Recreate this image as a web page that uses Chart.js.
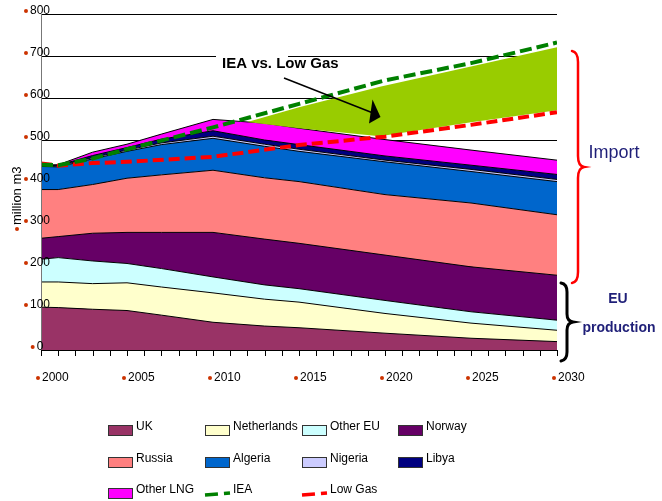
<!DOCTYPE html>
<html><head><meta charset="utf-8">
<script src="https://cdn.jsdelivr.net/npm/chart.js@4.4.1/dist/chart.umd.min.js"></script>
<style>html,body{margin:0;padding:0;background:#fff;}canvas{display:block;}</style>
</head><body>
<canvas id="c" width="662" height="501"></canvas>
<script>
// ---- data (million m3) ----
const years       = [2000, 2001, 2003, 2005, 2007, 2010, 2013, 2015, 2020, 2025, 2030];
const ukData      = [102, 101,  97,  94,  83,  66,  57,  53,  40,  28,  20];
const nlData      = [ 60,  61,  61,  66,  67,  70,  64,  61,  47,  36,  27];
const otherEuData = [ 54,  58,  54,  46,  44,  38,  34,  32,  31,  27,  24];
const norwayData  = [ 50,  50,  66,  74,  86, 106, 109, 108, 108, 107, 107];
const russiaData  = [116, 112, 116, 129, 137, 148, 146, 147, 144, 152, 144];
const algeriaData = [ 55,  54,  61,  64,  72,  76,  75,  72,  78,  75,  79];
const nigeriaData = [  1,   2,   3,   3,   4,   5,   5,   5,   4,   5,   5];
const libyaData   = [  2,   2,   5,   6,   9,  13,  10,  11,  10,  10,  12];
const lngData     = [  0,   1,   8,   8,  12,  27,  40,  39,  39,  36,  34];

const demandYears = [2000, 2001, 2003, 2005, 2010, 2015, 2020, 2025, 2030];
const ieaData     = [ 441,  440,  456,  478,  530,  586,  642,  683,  732];
const lowGasData  = [ 444,  439,  445,  448,  460,  488,  508,  536,  566];

const gapYears    = [2012, 2015, 2019.7, 2025, 2030];
const gapLowData  = [ 543,  528,  509,   542,  571];
const gapHighData = [ 543,  578,  627,   675,  721];

const yTickValues = [0, 100, 200, 300, 400, 500, 600, 700, 800];
const xTickLabels = [2000, 2005, 2010, 2015, 2020, 2025, 2030];

const supplyNames  = ['UK', 'Netherlands', 'Other EU', 'Norway', 'Russia', 'Algeria', 'Nigeria', 'Libya', 'Other LNG'];
const supplySeries = [ukData, nlData, otherEuData, norwayData, russiaData, algeriaData, nigeriaData, libyaData, lngData];
const supplyColors = ['#993366', '#ffffcc', '#ccffff', '#660066', '#ff8080', '#0066cc', '#ccccff', '#000080', '#ff00ff'];

const FONT = '"Liberation Sans", Arial, sans-serif';
const BULLET = '#cc3300';
const NAVY = '#1f1f78';

const pts = (xs, ys) => xs.map((x, i) => ({x: x, y: ys[i]}));

const datasets = supplySeries.map((s, i) => ({
  label: supplyNames[i], data: pts(years, s),
  backgroundColor: supplyColors[i], borderColor: '#000', borderWidth: 1,
  fill: i === 0 ? 'origin' : '-1', pointRadius: 0, tension: 0, stack: 'supply', order: 2
}));
datasets.push({label: 'gapBase', data: pts(gapYears, gapLowData), borderWidth: 0, borderColor: 'rgba(0,0,0,0)',
  fill: false, pointRadius: 0, tension: 0, stack: 'g1', order: 1});
datasets.push({label: 'IEA vs. Low Gas', data: pts(gapYears, gapHighData), borderWidth: 0, borderColor: 'rgba(0,0,0,0)',
  backgroundColor: '#99cc00', fill: '-1', pointRadius: 0, tension: 0, stack: 'g2', order: 1});
datasets.push({label: 'IEA', data: pts(demandYears, ieaData), borderColor: '#008000', borderWidth: 4,
  borderDash: [12, 5], fill: false, pointRadius: 0, tension: 0, stack: 'iea', order: 0});
datasets.push({label: 'Low Gas', data: pts(demandYears, lowGasData), borderColor: '#ff0000', borderWidth: 4,
  borderDash: [11, 5], fill: false, pointRadius: 0, tension: 0, stack: 'low', order: 0});

function bullet(ctx, x, y) {
  ctx.fillStyle = BULLET; ctx.beginPath(); ctx.arc(x, y, 2, 0, Math.PI * 2); ctx.fill();
}

const decor = {
  id: 'decor',
  beforeDraw(chart) {
    const ctx = chart.ctx; ctx.save(); ctx.fillStyle = '#fff'; ctx.fillRect(0, 0, chart.width, chart.height); ctx.restore();
  },
  afterDraw(chart) {
    const ctx = chart.ctx, xs = chart.scales.x, ys = chart.scales.y, a = chart.chartArea;
    ctx.save();
    // axes
    ctx.lineWidth = 1;
    ctx.strokeStyle = '#777';
    ctx.beginPath(); ctx.moveTo(a.left + 0.5, a.top); ctx.lineTo(a.left + 0.5, a.bottom); ctx.stroke();
    ctx.strokeStyle = '#000';
    ctx.beginPath(); ctx.moveTo(a.left, Math.round(a.bottom) + 0.5); ctx.lineTo(a.right, Math.round(a.bottom) + 0.5); ctx.stroke();
    ctx.beginPath();
    for (let yr = 2000; yr <= 2030; yr++) {
      const px = Math.round(xs.getPixelForValue(yr)) + 0.5;
      ctx.moveTo(px, a.bottom); ctx.lineTo(px, a.bottom + 6);
    }
    ctx.stroke();
    // x labels
    ctx.font = '12px ' + FONT; ctx.textBaseline = 'middle'; ctx.textAlign = 'left';
    xTickLabels.forEach(yr => {
      const px = xs.getPixelForValue(yr);
      ctx.fillStyle = '#000'; ctx.fillText(String(yr), px + 1, 378);
      bullet(ctx, px - 3, 378);
    });
    // y labels
    yTickValues.forEach(v => {
      const py = ys.getPixelForValue(v) - 3;
      const t = String(v), w = ctx.measureText(t).width, left = a.left - 1 - w / 2;
      ctx.fillStyle = '#000'; ctx.fillText(t, left, py);
      bullet(ctx, left - 4, py);
    });
    // y title
    ctx.save();
    ctx.translate(17, 225); ctx.rotate(-Math.PI / 2);
    ctx.font = '13px ' + FONT; ctx.fillStyle = '#000'; ctx.textAlign = 'left'; ctx.textBaseline = 'middle';
    ctx.fillText('million m3', 0, 0);
    bullet(ctx, -4, 0);
    ctx.restore();
    // annotation
    ctx.fillStyle = '#fff'; ctx.fillRect(216, 52, 72, 8);
    ctx.fillStyle = '#000'; ctx.font = 'bold 15px ' + FONT; ctx.textBaseline = 'middle'; ctx.textAlign = 'left';
    ctx.fillText('IEA vs. Low Gas', 222, 64);
    ctx.strokeStyle = '#000'; ctx.lineWidth = 1.5;
    ctx.beginPath(); ctx.moveTo(284, 78); ctx.lineTo(373, 113); ctx.stroke();
    ctx.beginPath(); ctx.moveTo(372.5, 99.5); ctx.lineTo(380.5, 117); ctx.lineTo(369, 123.5); ctx.closePath(); ctx.fill();
    // braces
    ctx.lineCap = 'round';
    ctx.strokeStyle = '#ff0000'; ctx.lineWidth = 2.5;
    ctx.beginPath();
    ctx.moveTo(572, 51); ctx.quadraticCurveTo(578, 52, 578, 62);
    ctx.lineTo(578, 156); ctx.quadraticCurveTo(578, 166, 584, 167);
    ctx.quadraticCurveTo(578, 168, 578, 178);
    ctx.lineTo(578, 272); ctx.quadraticCurveTo(578, 282, 572, 283);
    ctx.stroke();
    ctx.strokeStyle = '#000'; ctx.lineWidth = 3;
    ctx.beginPath();
    ctx.moveTo(561, 283); ctx.quadraticCurveTo(567, 284, 567, 292);
    ctx.lineTo(567, 314); ctx.quadraticCurveTo(567, 321, 573, 322);
    ctx.quadraticCurveTo(567, 323, 567, 330);
    ctx.lineTo(567, 352); ctx.quadraticCurveTo(567, 360, 561, 361);
    ctx.stroke();
    ctx.fillStyle = NAVY; ctx.textAlign = 'center';
    ctx.font = '18px ' + FONT; ctx.fillText('Import', 614, 153);
    ctx.font = 'bold 14px ' + FONT; ctx.fillText('EU', 618, 299); ctx.fillText('production', 619, 328);
    // legend
    const boxX = [108, 205, 302, 398], rowY = [425, 457, 488];
    const items = supplyNames.map((n, i) => ({label: n, color: supplyColors[i], kind: 'box'}));
    items.push({label: 'IEA', color: '#008000', kind: 'line'});
    items.push({label: 'Low Gas', color: '#ff0000', kind: 'line'});
    ctx.font = '12px ' + FONT; ctx.textAlign = 'left'; ctx.textBaseline = 'middle';
    items.forEach((it, i) => {
      const bx = boxX[i % 4], by = rowY[Math.floor(i / 4)];
      if (it.kind === 'box') {
        ctx.fillStyle = it.color; ctx.fillRect(bx, by, 25, 11);
        ctx.strokeStyle = '#333'; ctx.lineWidth = 1; ctx.strokeRect(bx + 0.5, by + 0.5, 24, 10);
      } else {
        ctx.strokeStyle = it.color; ctx.lineWidth = 3.5; ctx.lineCap = 'butt'; ctx.setLineDash([13, 6]);
        ctx.beginPath(); ctx.moveTo(bx, by + 7); ctx.lineTo(bx + 25, by + 5); ctx.stroke(); ctx.setLineDash([]);
      }
      ctx.fillStyle = '#000'; ctx.fillText(it.label, bx + 28, by + 1.5);
    });
    ctx.restore();
  }
};

new Chart(document.getElementById('c'), {
  type: 'line',
  data: {datasets: datasets},
  options: {
    responsive: false, devicePixelRatio: 1, animation: false,
    layout: {padding: {left: 41, right: 105, top: 14, bottom: 151}},
    plugins: {legend: {display: false}, tooltip: {enabled: false}},
    scales: {
      x: {type: 'linear', min: 2000, max: 2030, grid: {display: false, drawTicks: false},
          ticks: {display: false}, border: {display: false}},
      y: {stacked: true, min: 0, max: 800, ticks: {display: false, stepSize: 100},
          grid: {color: '#000', lineWidth: 1, drawTicks: false}, border: {display: false}}
    }
  },
  plugins: [decor]
});
</script>
</body></html>
